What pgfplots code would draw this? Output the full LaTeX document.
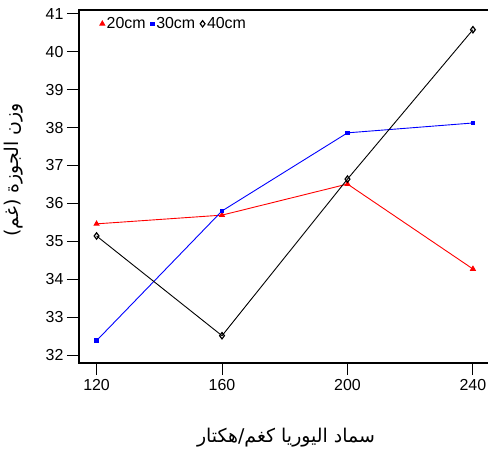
\documentclass[border=0pt]{standalone}
\usepackage{pgfplots}
\pgfplotsset{compat=1.18}
\usepackage{fontspec}
\setmainfont{Liberation Sans}
\newfontfamily\arabicfont[Script=Arabic]{DejaVu Sans}
\TeXXeTstate=1
\begin{document}
\begin{tikzpicture}
\begin{axis}[
  name=ax,
  scale only axis,
  width=414bp, height=353bp,
  xmin=114.4, xmax=246.4,
  ymin=31.79, ymax=41.1,
  xtick={120,160,200,240},
  ytick={32,33,34,35,36,37,38,39,40,41},
  tick align=outside,
  xtick pos=left, ytick pos=left,
  major tick length=12bp,
  axis line style={line width=1.1pt},
  tick style={line width=0.9pt, black},
  /pgf/number format/assume math mode=true,
  tick label style={font=\fontsize{16}{18}\selectfont},
  xticklabel style={yshift=-1bp},
  yticklabel style={xshift=0bp},
  xlabel={\arabicfont\beginR سماد اليوريا كغم/هكتار\endR},
  ylabel={\arabicfont\beginR وزن الجوزة (غم)\endR},
  label style={font=\fontsize{19}{22}\selectfont},
  xlabel style={at={(axis description cs:0.50,-0.212)},anchor=center},
  ylabel style={at={(axis description cs:-0.157,0.547)},anchor=center},
  legend columns=3,
  legend style={draw=none, fill=none, at={(0.05,0.985)}, anchor=north west,
    font=\fontsize{16}{18}\selectfont, inner sep=0pt,
    /tikz/every even column/.append style={column sep=3bp}},
  legend image code/.code={\draw[#1] plot[only marks] coordinates {(0.05cm,0cm)};},
]
\addplot[red, line width=0.9pt, mark=triangle*, mark size=2.8pt] coordinates {
  (120,35.46) (160,35.69) (200,36.51) (240,34.27)};
\addlegendentry{20cm}
\addplot[blue, line width=0.9pt, mark=square*, mark size=1.8pt] coordinates {
  (120,32.38) (160,35.80) (200,37.86) (240,38.12)};
\addlegendentry{30cm}
\addplot[black, line width=0.9pt, mark=diamond, mark size=3.2pt, mark options={line width=1.2pt}] coordinates {
  (120,35.14) (160,32.51) (200,36.64) (240,40.58)};
\addlegendentry{40cm}
\end{axis}
\pgfresetboundingbox
\path (ax.south west) ++(-79bp,-91bp) coordinate (bl);
\path (ax.south west) ++(409bp,363bp) coordinate (tr);
\path[use as bounding box] (bl) rectangle (tr);
\end{tikzpicture}
\end{document}
